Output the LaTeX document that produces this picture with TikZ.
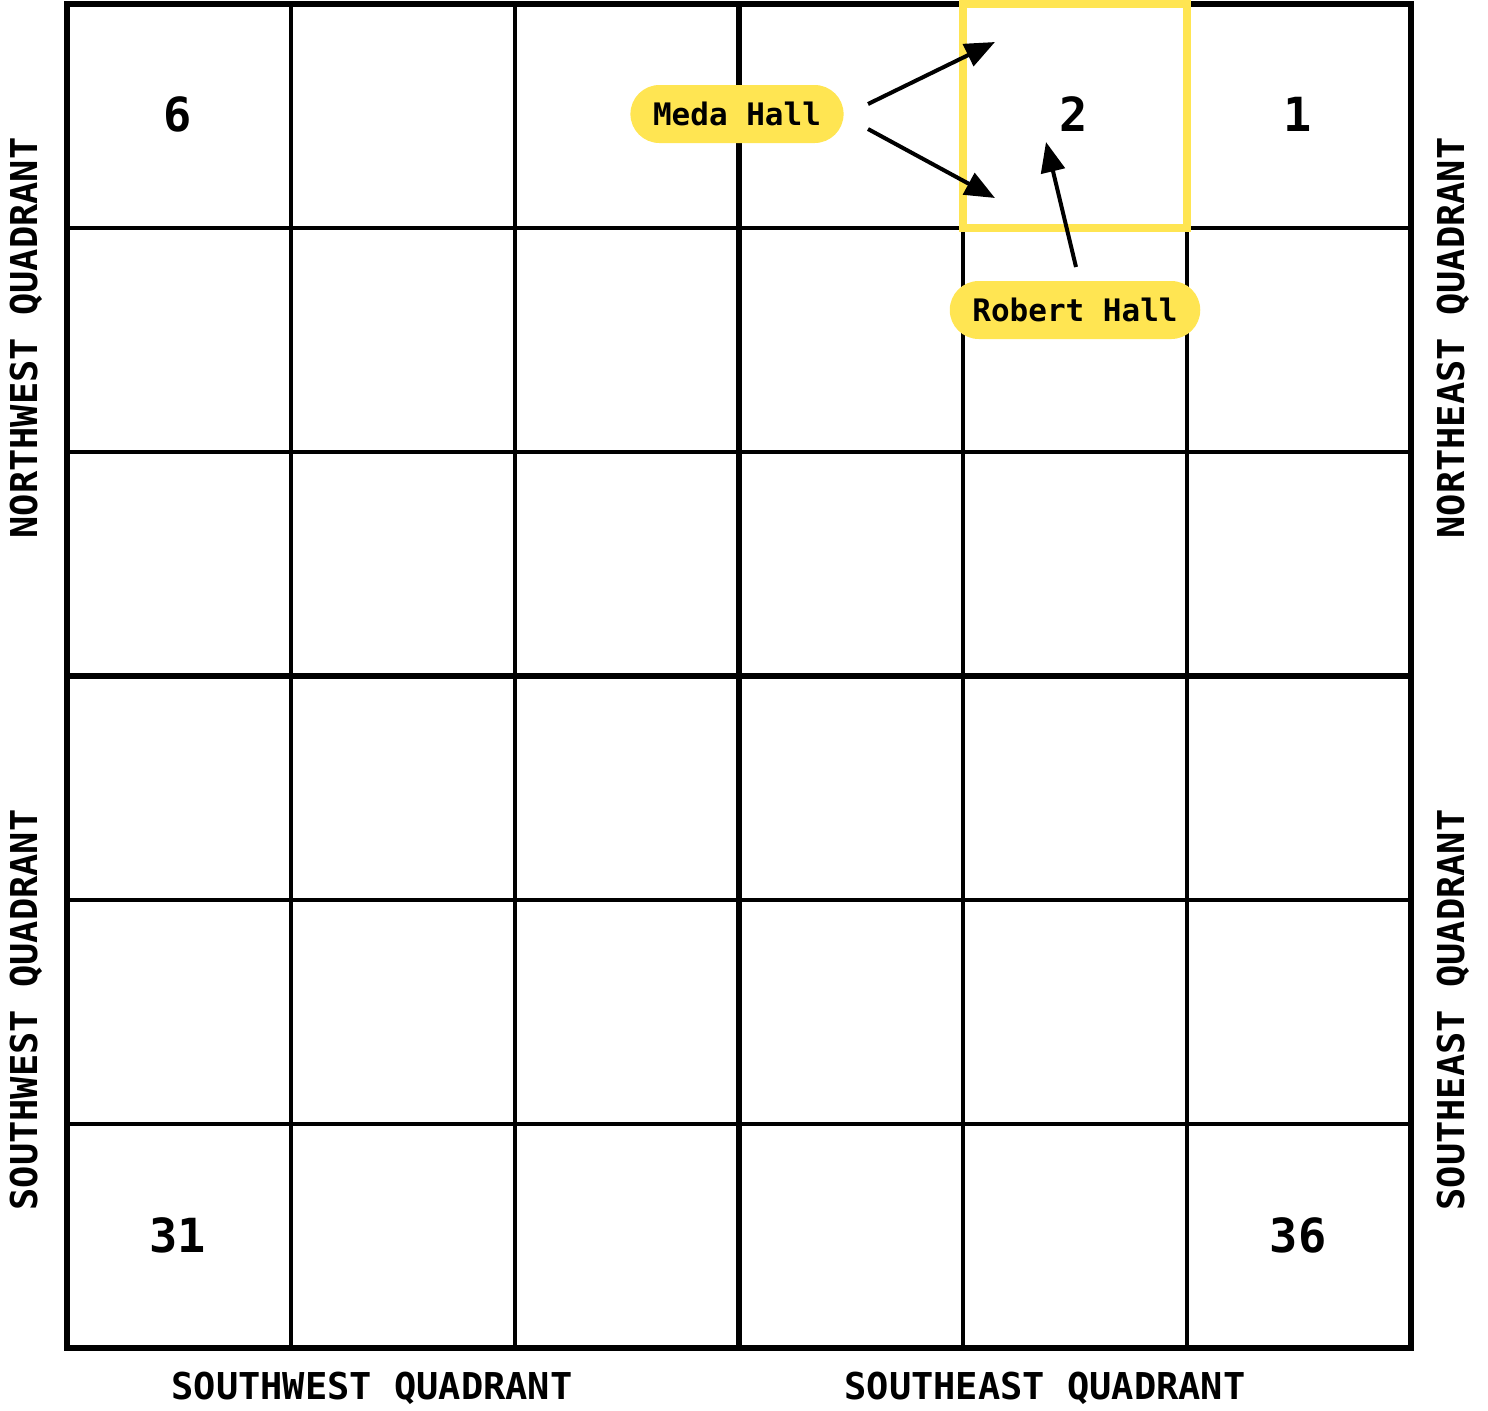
\documentclass[tikz,border=0pt]{standalone}
\usepackage{fontspec}
\setmonofont{DejaVu Sans Mono}
\usetikzlibrary{arrows.meta,shapes.misc}
\definecolor{hl}{HTML}{FFE552}
\begin{document}
\begin{tikzpicture}[x=0.5pt,y=-0.5pt,
  thingrid/.style={line width=2pt},
  thickgrid/.style={line width=3pt, line cap=rect},
  num/.style={font=\ttfamily\bfseries\fontsize{23.5}{23.5}\selectfont, inner sep=0},
  quad/.style={font=\ttfamily\bfseries\fontsize{18.5}{18.5}\selectfont, inner sep=0},
  pill/.style={rounded rectangle, fill=hl, minimum height=29pt, inner xsep=10pt,
    font=\ttfamily\bfseries\fontsize{15.5}{15.5}\selectfont},
  ptr/.style={line width=2pt, -{Triangle[length=15pt,width=12pt]}}]
\useasboundingbox (0,0) rectangle (1488,1410);
% inner grid lines
\foreach \i in {1,2,4,5} {
  \draw[thingrid] ({67+224*\i},4) -- ({67+224*\i},1348);
  \draw[thingrid] (67,{4+224*\i}) -- (1411,{4+224*\i});
}
% quadrant dividers and border
\draw[thickgrid] (739,4) -- (739,1348);
\draw[thickgrid] (67,676) -- (1411,676);
\draw[thickgrid] (67,4) rectangle (1411,1348);
% highlighted cell
\draw[hl, line width=4pt] (963,4) rectangle (1187,228);
% cell numbers
\node[num] (c6) at (178,114) {6};
\node[num] (c2) at (1074,114) {2};
\node[num] (c1) at (1298,114) {1};
\node[num] (c31) at (178,1235) {31};
\node[num] (c36) at (1298,1235) {36};
% quadrant labels
\node[quad] (swb) at (372,1388) {SOUTHWEST QUADRANT};
\node[quad] (seb) at (1045,1388) {SOUTHEAST QUADRANT};
\node[quad, rotate=90] (nwl) at (26,338) {NORTHWEST QUADRANT};
\node[quad, rotate=90] (swl) at (26,1010) {SOUTHWEST QUADRANT};
\node[quad, rotate=90] (ner) at (1453,338) {NORTHEAST QUADRANT};
\node[quad, rotate=90] (ser) at (1453,1010) {SOUTHEAST QUADRANT};
% callouts
\node[pill] (meda) at (737,114) {Meda Hall};
\node[pill] (robert) at (1075,310) {Robert Hall};
\coordinate (m1) at (868,104);
\coordinate (m2) at (868,129);
\coordinate (t1) at (995,42);
\coordinate (t2) at (995,198);
\coordinate (r1) at (1076,267);
\coordinate (t3) at (1046,142);
\draw[ptr] (m1) -- (t1);
\draw[ptr] (m2) -- (t2);
\draw[ptr] (r1) -- (t3);
\end{tikzpicture}
\end{document}
